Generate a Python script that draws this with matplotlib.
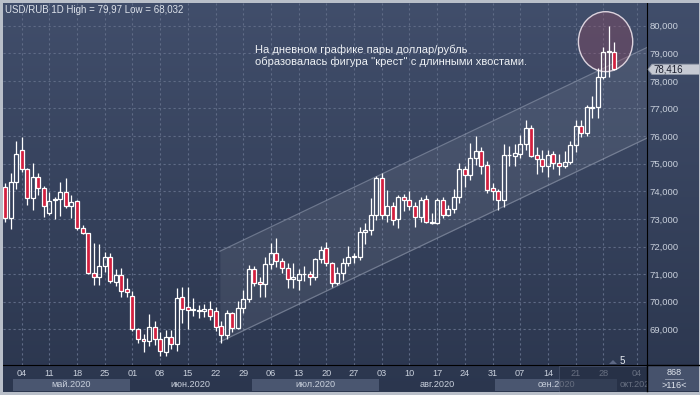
import numpy as np
import matplotlib
matplotlib.use('Agg')
import matplotlib.pyplot as plt
from matplotlib.patches import Ellipse, Rectangle, Polygon

plt.rcParams['font.family'] = ['Liberation Sans', 'DejaVu Sans']

# USD/RUB daily candles, 29 Apr 2020 .. 30 Sep 2020
opens = [74.14, 73.02, 74.35, 75.50, 74.80, 73.75, 74.51, 74.11, 73.20, 73.68,
         73.71, 73.99, 73.47, 73.66, 72.66, 72.48, 71.05, 70.88, 71.29, 71.61,
         70.72, 70.97, 70.45, 70.21, 69.00, 68.65, 68.57, 69.09, 68.65, 68.19,
         68.71, 68.46, 70.16, 69.82, 69.70, 69.68, 69.66, 69.73, 69.66, 69.12,
         68.78, 69.58, 69.06, 69.76, 70.10, 71.17, 70.70, 70.64, 71.36, 71.75,
         71.47, 71.21, 70.82, 70.80, 71.00, 71.00, 70.91, 71.54, 71.93, 71.39,
         70.69, 71.05, 71.39, 71.67, 71.63, 72.54, 72.60, 73.14, 74.47, 73.14,
         73.47, 72.99, 73.80, 73.68, 73.47, 73.08, 73.71, 72.90, 72.84, 73.68,
         73.14, 73.35, 73.80, 74.80, 74.59, 75.20, 75.46, 74.95, 74.11, 74.01,
         73.68, 75.30, 75.28, 75.35, 75.71, 76.28, 75.32, 75.16, 74.92, 75.35,
         75.01, 74.92, 75.07, 75.68, 76.37, 76.10, 77.01, 77.04, 78.13, 79.06,
         79.06]
closes = [73.02, 74.35, 75.34, 74.80, 73.75, 74.51, 74.11, 73.48, 73.66, 73.72,
          73.99, 73.47, 73.60, 72.66, 72.48, 71.05, 70.91, 71.29, 71.61, 70.76,
          70.97, 70.40, 70.34, 69.00, 68.64, 68.57, 69.09, 68.65, 68.22, 68.71,
          68.46, 70.12, 69.72, 69.70, 69.72, 69.70, 69.75, 69.48, 69.09, 68.78,
          69.58, 69.06, 69.76, 70.10, 71.17, 70.67, 70.64, 71.36, 71.75, 71.47,
          71.21, 70.82, 70.88, 71.00, 71.02, 70.91, 71.54, 71.87, 71.39, 70.69,
          71.05, 71.41, 71.63, 71.61, 72.54, 72.60, 73.14, 74.47, 73.14, 73.47,
          72.96, 73.80, 73.68, 73.47, 73.08, 73.68, 72.90, 72.84, 73.68, 73.14,
          73.35, 73.80, 74.80, 74.59, 75.20, 75.46, 74.92, 74.05, 74.01, 73.68,
          75.32, 75.32, 75.38, 75.71, 76.28, 75.28, 75.16, 74.92, 75.32, 75.01,
          74.92, 75.07, 75.68, 76.37, 76.10, 77.04, 77.04, 78.13, 79.06, 79.09,
          78.416]
highs = [74.30, 74.65, 75.82, 75.98, 74.85, 75.01, 74.65, 74.20, 73.99, 73.80,
         74.35, 74.47, 73.87, 73.70, 72.78, 72.50, 72.12, 72.08, 71.81, 71.75,
         71.20, 71.21, 70.85, 70.40, 69.05, 68.83, 69.55, 69.30, 68.91, 68.97,
         68.97, 70.49, 70.52, 70.52, 70.12, 69.90, 69.93, 70.04, 69.80, 69.30,
         69.70, 69.62, 70.04, 70.42, 71.33, 71.29, 70.90, 71.63, 72.12, 72.30,
         71.60, 71.40, 71.41, 71.20, 71.29, 71.10, 71.60, 72.02, 72.17, 71.45,
         71.25, 71.57, 72.02, 71.75, 72.72, 72.85, 73.77, 74.55, 74.65, 74.04,
         73.60, 73.85, 73.89, 74.02, 73.60, 73.80, 73.87, 73.20, 73.75, 73.80,
         73.50, 74.10, 75.04, 74.90, 75.74, 76.00, 75.60, 75.10, 74.30, 74.10,
         75.71, 75.64, 75.71, 76.04, 76.58, 76.40, 75.62, 75.50, 75.50, 75.45,
         75.35, 75.47, 75.83, 76.58, 76.58, 77.13, 77.45, 78.46, 79.24, 79.97,
         79.42]
lows = [72.90, 72.62, 74.10, 74.70, 73.50, 73.32, 73.87, 73.08, 73.14, 72.99,
        73.10, 73.40, 73.02, 72.60, 72.45, 71.00, 70.60, 70.60, 71.09, 70.67,
        70.57, 70.18, 70.18, 68.95, 68.51, 68.19, 68.40, 68.43, 68.032, 68.05,
        68.30, 68.20, 69.24, 69.00, 69.48, 69.40, 69.45, 69.33, 68.95, 68.52,
        68.64, 68.90, 69.00, 69.60, 70.00, 70.57, 70.18, 70.18, 71.20, 71.27,
        71.05, 70.49, 70.49, 70.42, 70.75, 70.60, 70.80, 71.40, 71.29, 70.54,
        70.60, 70.79, 71.30, 71.40, 71.50, 72.10, 72.40, 72.95, 73.00, 72.90,
        72.78, 72.66, 73.30, 73.32, 72.72, 72.90, 72.84, 72.80, 72.80, 73.02,
        73.10, 73.20, 73.57, 74.15, 74.40, 74.95, 74.63, 73.93, 73.68, 73.32,
        73.44, 74.92, 74.92, 75.20, 75.50, 75.23, 74.63, 74.70, 74.53, 74.80,
        74.60, 74.85, 75.00, 75.43, 75.96, 76.00, 76.64, 76.64, 78.06, 78.15,
        78.39]

# weekly date labels (position = candle index)
week_pos = [3, 8, 13, 18, 23, 28, 33, 38, 43, 48, 53, 58, 63, 68, 73, 78,
            83, 88, 93, 98, 103, 108, 114]
week_labels = ['04', '11', '18', '25', '01', '08', '15', '22', '29', '06',
               '13', '20', '27', '03', '10', '17', '24', '31', '07', '14',
               '21', '28', '04']
month_names = ['май.2020', 'июн.2020', 'июл.2020', 'авг.2020', 'сен.2020',
               'окт.2020']
month_start = [2, 23, 45, 68, 89, 111]
price_levels = [69, 70, 71, 72, 73, 74, 75, 76, 77, 78, 79, 80]

# ascending channel drawn on the chart
channel_x = [38.8, 115.9]
channel_upper = [71.83, 79.21]
channel_lower = [68.55, 75.93]

title = 'USD/RUB 1D High = 79,97 Low = 68,032'
note = ('На дневном графике пары доллар/рубль\n'
        'образовалась фигура \'\'крест\'\' с длинными хвостами.')

W, H = 700, 395
BG_TOP = '#414e6b'
BG_BOT = '#2b364e'
RED = '#d3203f'
GRID = '#5f6b86'
TXT = '#c9d0dc'


def px_rect(l, t, r, b):
    return [l / W, 1 - b / H, (r - l) / W, (b - t) / H]


def fmt_price(v):
    return ('%.3f' % v).replace('.', ',')


fig = plt.figure(figsize=(7, 3.95), dpi=100)

# background gradient over the whole window
bg = fig.add_axes([0, 0, 1, 1], zorder=0)
grad = np.linspace(0, 1, 256)[:, None]
cmap = matplotlib.colors.LinearSegmentedColormap.from_list('bg', [BG_TOP, BG_BOT])
bg.imshow(grad, aspect='auto', cmap=cmap, extent=[0, W, H, 0])
bg.set_xlim(0, W)
bg.set_ylim(H, 0)
bg.axis('off')

# ---- main price panel
ax = fig.add_axes(px_rect(3, 3, 647, 365), zorder=2)
ax.patch.set_alpha(0)
x = np.arange(len(opens))
ax.set_xlim(-0.36, 115.88)
ax.set_ylim(67.71, 80.82)

ax.set_xticks(week_pos)
ax.set_xticklabels([])
ax.set_yticks(price_levels)
ax.set_yticklabels([fmt_price(p) for p in price_levels])
ax.yaxis.tick_right()
ax.tick_params(axis='y', length=0, pad=2, labelsize=6.8, labelcolor=TXT)
ax.tick_params(axis='x', length=0)
ax.grid(True, color=GRID, linestyle=(0, (2, 2.5)), linewidth=0.8)
ax.set_axisbelow(True)
for side in ['top', 'left']:
    ax.spines[side].set_visible(False)
ax.spines['right'].set_color('black')
ax.spines['bottom'].set_color('black')

# channel
ax.fill_between(channel_x, channel_lower, channel_upper, color='white',
                alpha=0.07, linewidth=0, zorder=1)
ax.plot(channel_x, channel_upper, color='#9aa3b6', alpha=0.55, lw=0.9, zorder=1)
ax.plot(channel_x, channel_lower, color='#9aa3b6', alpha=0.55, lw=0.9, zorder=1)

# highlight of the last candles
ax.add_patch(Ellipse((108.4, 79.42), 9.8, 2.17, facecolor=(0.62, 0.29, 0.38, 0.32),
                     edgecolor='#dcd3de', lw=1.0, zorder=2))

# candles
o = np.array(opens)
c = np.array(closes)
h = np.array(highs)
lo = np.array(lows)
top = np.maximum(o, c)
bot = np.minimum(o, c)
up = c >= o
ax.vlines(x, top, h, color='white', lw=0.9, zorder=3)
ax.vlines(x, lo, bot, color='white', lw=0.9, zorder=3)
body = np.maximum(top - bot, 0.02)
ax.bar(x[up], body[up], bottom=bot[up], width=0.72, facecolor='none',
       edgecolor='white', linewidth=0.9, zorder=4)
ax.bar(x[~up], body[~up], bottom=bot[~up], width=0.72, facecolor=RED,
       edgecolor='white', linewidth=0.9, zorder=4)

ax.text(0.003, 0.981, title, transform=ax.transAxes, fontsize=7,
        color='#dde2ea', va='center', ha='left')
ax.text(0.391, 0.854, note, transform=ax.transAxes, fontsize=8,
        color='#eef1f5', va='center', ha='left', linespacing=1.25)

# ---- time axis strip
tl = fig.add_axes(px_rect(3, 365, 647, 391), zorder=1)
tl.patch.set_alpha(0)
tl.set_xlim(ax.get_xlim())
tl.set_ylim(0, 1)
tl.axis('off')
ends = month_start[1:] + [month_start[-1] + 22]
for k, (s, e) in enumerate(zip(month_start, ends)):
    if k % 2 == 0:
        tl.axvspan(s - 0.5, e - 0.5, ymin=0, ymax=0.46, color='#4a5670', lw=0)
for k, name in enumerate(month_names):
    xc = (month_start[k] + ends[k]) / 2 - 0.5
    if k == len(month_names) - 1:
        xc = 114.1
    tl.text(xc, 0.24, name, fontsize=6.6, color=TXT, ha='center', va='center',
            clip_on=True)
for p, lab in zip(week_pos, week_labels):
    tl.text(p, 0.66, lab, fontsize=6.6, color=TXT, ha='center', va='center')

# ---- window decorations (pixel space)
ov = fig.add_axes([0, 0, 1, 1], zorder=5)
ov.patch.set_alpha(0)
ov.set_xlim(0, W)
ov.set_ylim(H, 0)
ov.axis('off')

# last price tag, placed at the last close
fig.canvas.draw()
_, tag_y = ov.transData.inverted().transform(ax.transData.transform((0, closes[-1])))
ov.add_patch(Polygon([[648, tag_y], [652, tag_y - 5.2], [700, tag_y - 5.2],
                      [700, tag_y + 5.2], [652, tag_y + 5.2]], closed=True,
                     facecolor='#c6cad3', edgecolor='#8d94a3', lw=0.6))
ov.text(653, tag_y, fmt_price(closes[-1]), fontsize=7, color='#1c2030',
        ha='left', va='center')

# scroll overlay on the time strip
ov.add_patch(Rectangle((559, 366), 88, 25.5, facecolor='#252e43', alpha=0.6,
                       edgecolor='#55607a', lw=0.6))
# corner box
ov.add_patch(Rectangle((647, 365), 53, 26, facecolor='#46526c', lw=0))
ov.text(674, 372.5, '868', fontsize=6.6, color='#dfe4ec', ha='center', va='center')
ov.plot([665, 683], [379, 379], color='#9aa3b6', lw=0.6)
ov.text(674, 385, '>116<', fontsize=6.6, color='#dfe4ec', ha='center', va='center')
# black separators
ov.plot([647, 700], [365, 365], color='black', lw=1)
ov.plot([647, 647], [365, 391], color='black', lw=1)
# small marker near the bottom
ov.add_patch(Polygon([[609, 364], [617, 364], [613, 360]], closed=True,
                     facecolor='#5d6884', lw=0))
ov.text(622, 360.5, '5', fontsize=7, color='#e6eaf0', ha='center', va='center')
# outer frame
ov.add_patch(Rectangle((0, 0), W, 2.5, facecolor='#b9bfc9', lw=0))
ov.add_patch(Rectangle((0, 0), 2.5, H, facecolor='#b9bfc9', lw=0))
ov.add_patch(Rectangle((0, 391.5), W, 3.5, facecolor='#b9bfc9', lw=0))
ov.add_patch(Rectangle((698.5, 0), 1.5, H, facecolor='#b9bfc9', lw=0))

fig.savefig('out.png', dpi=100)
